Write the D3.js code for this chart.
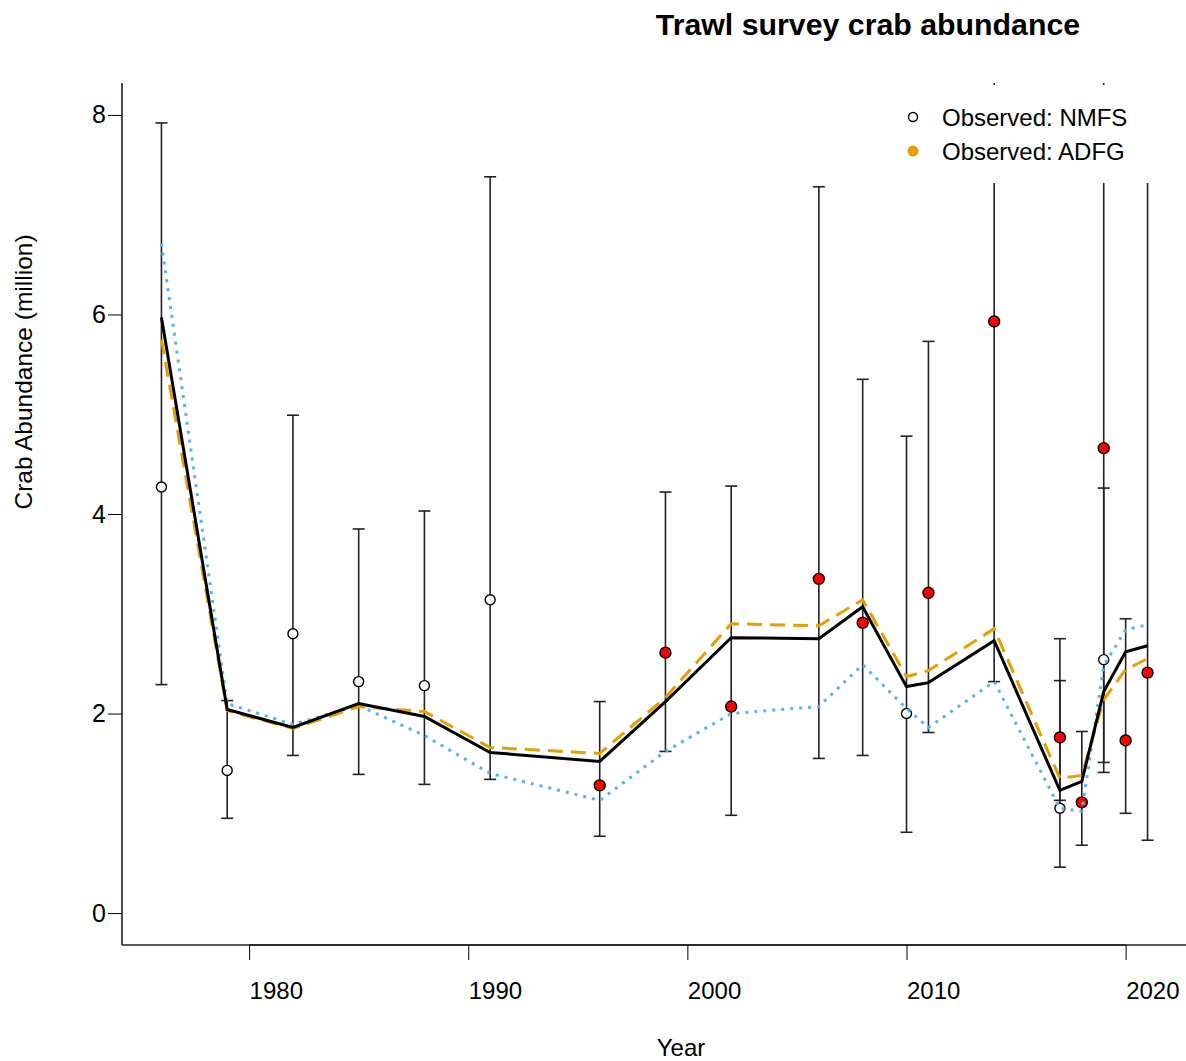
<!DOCTYPE html>
<html>
<head>
<meta charset="utf-8">
<script src="https://cdn.jsdelivr.net/npm/d3@7"></script>
<style>
  body { margin: 0; background: #fff; }
  text { font-family: "Liberation Sans", Arial, sans-serif; }
</style>
</head>
<body>
<div id="chart"></div>
<script>
// model fit years and estimates
const years = [1976, 1979, 1982, 1985, 1988, 1991, 1996, 1999, 2002, 2006, 2008, 2010, 2011, 2014, 2017, 2018, 2019, 2020, 2021];
const fitBlack  = [5.97, 2.04, 1.86, 2.10, 1.97, 1.61, 1.52, 2.12, 2.76, 2.75, 3.07, 2.27, 2.31, 2.73, 1.23, 1.32, 2.22, 2.62, 2.68];
const fitOrange = [5.75, 2.03, 1.85, 2.07, 2.02, 1.66, 1.60, 2.16, 2.90, 2.88, 3.14, 2.37, 2.43, 2.85, 1.35, 1.38, 2.14, 2.44, 2.55];
const fitBlue   = [6.71, 2.10, 1.89, 2.08, 1.78, 1.40, 1.13, 1.62, 2.00, 2.07, 2.49, 2.05, 1.86, 2.32, 1.05, 1.02, 2.48, 2.84, 2.89];

// observed: NMFS
const nmfsYears = [1976, 1979, 1982, 1985, 1988, 1991, 2010, 2017, 2019];
const nmfsObs   = [4.27, 1.43, 2.80, 2.32, 2.28, 3.14, 2.00, 1.05, 2.54];
const nmfsLo    = [2.29, 0.95, 1.58, 1.39, 1.29, 1.34, 0.81, 0.46, 1.51];
const nmfsHi    = [7.92, 2.13, 4.99, 3.85, 4.03, 7.38, 4.78, 2.33, 4.26];

// observed: ADFG
const adfgYears = [1996, 1999, 2002, 2006, 2008, 2011, 2014, 2017, 2018, 2019, 2020, 2021];
const adfgObs   = [1.28, 2.61, 2.07, 3.35, 2.91, 3.21, 5.93, 1.76, 1.11, 4.66, 1.73, 2.41];
const adfgLo    = [0.77, 1.62, 0.98, 1.55, 1.58, 1.81, 2.32, 1.13, 0.68, 1.41, 1.00, 0.73];
const adfgHi    = [2.12, 4.22, 4.28, 7.28, 5.35, 5.73, 15.2, 2.75, 1.82, 15.3, 2.95, 7.90];

const yTicks = [0, 2, 4, 6, 8];
const xTicks = [1980, 1990, 2000, 2010, 2020];

const width = 1186, height = 1061;
const margin = {top: 83, right: 0, bottom: 116, left: 122};

const svg = d3.select("#chart").append("svg")
    .attr("width", width)
    .attr("height", height);

const x = d3.scaleLinear().domain([1974.2, 2022.8]).range([margin.left, 1187]);
const y = d3.scaleLinear().domain([-0.32, 8.32]).range([height - margin.bottom, margin.top]);

svg.append("clipPath").attr("id", "plotclip")
    .append("rect")
    .attr("x", margin.left).attr("y", margin.top)
    .attr("width", 1187 - margin.left).attr("height", height - margin.bottom - margin.top);

const plot = svg.append("g").attr("clip-path", "url(#plotclip)");

// error bars
function errorBars(yrs, lo, hi) {
    const g = plot.append("g").attr("stroke", "#222").attr("stroke-width", 1.6);
    yrs.forEach((yr, i) => {
        g.append("line")
            .attr("x1", x(yr)).attr("x2", x(yr))
            .attr("y1", y(lo[i])).attr("y2", y(hi[i]));
        [lo[i], hi[i]].forEach(v => {
            g.append("line")
                .attr("x1", x(yr) - 6).attr("x2", x(yr) + 6)
                .attr("y1", y(v)).attr("y2", y(v));
        });
    });
}
errorBars(nmfsYears, nmfsLo, nmfsHi);
errorBars(adfgYears, adfgLo, adfgHi);

// points
plot.append("g").selectAll("circle")
    .data(nmfsYears).enter()
    .append("circle")
    .attr("cx", d => x(d))
    .attr("cy", (d, i) => y(nmfsObs[i]))
    .attr("r", 5)
    .attr("fill", "white")
    .attr("stroke", "black")
    .attr("stroke-width", 1.4);

plot.append("g").selectAll("circle")
    .data(adfgYears).enter()
    .append("circle")
    .attr("cx", d => x(d))
    .attr("cy", (d, i) => y(adfgObs[i]))
    .attr("r", 5.5)
    .attr("fill", "#ff0000")
    .attr("stroke", "black")
    .attr("stroke-width", 1.4);

// fitted lines
const line = d3.line().x((d, i) => x(years[i])).y(d => y(d));
plot.append("path").datum(fitBlue)
    .attr("d", line).attr("fill", "none")
    .attr("stroke", "#56B4E9").attr("stroke-width", 3)
    .attr("stroke-dasharray", "3,6");
plot.append("path").datum(fitOrange)
    .attr("d", line).attr("fill", "none")
    .attr("stroke", "#E69F00").attr("stroke-width", 3)
    .attr("stroke-dasharray", "15,8");
plot.append("path").datum(fitBlack)
    .attr("d", line).attr("fill", "none")
    .attr("stroke", "black").attr("stroke-width", 3);

// legend (white background covers bars)
const legend = svg.append("g");
legend.append("rect")
    .attr("x", 895).attr("y", 85)
    .attr("width", 291).attr("height", 98)
    .attr("fill", "white");
legend.append("circle")
    .attr("cx", 913).attr("cy", 117).attr("r", 4.5)
    .attr("fill", "white").attr("stroke", "black").attr("stroke-width", 1.4);
legend.append("circle")
    .attr("cx", 913).attr("cy", 151).attr("r", 5.5)
    .attr("fill", "#E69F00");
legend.append("text")
    .attr("x", 942).attr("y", 118).attr("dy", "0.35em")
    .attr("font-size", 24).text("Observed: NMFS");
legend.append("text")
    .attr("x", 942).attr("y", 152).attr("dy", "0.35em")
    .attr("font-size", 24).text("Observed: ADFG");

// frame lines (left + bottom)
svg.append("line")
    .attr("x1", margin.left).attr("x2", margin.left)
    .attr("y1", margin.top).attr("y2", height - margin.bottom)
    .attr("stroke", "#222").attr("stroke-width", 1.6);
svg.append("line")
    .attr("x1", margin.left).attr("x2", width)
    .attr("y1", height - margin.bottom).attr("y2", height - margin.bottom)
    .attr("stroke", "#222").attr("stroke-width", 1.6);

// axes
const yAxis = svg.append("g")
    .attr("transform", "translate(" + margin.left + ",0)")
    .call(d3.axisLeft(y).tickValues(yTicks).tickSize(14).tickPadding(2).tickSizeOuter(0));
yAxis.select(".domain").remove();
yAxis.selectAll("text").attr("font-size", 25).attr("font-family", "Liberation Sans, Arial, sans-serif").attr("fill", "black");

const xAxis = svg.append("g")
    .attr("transform", "translate(0," + (height - margin.bottom) + ")")
    .call(d3.axisBottom(x).tickValues(xTicks).tickFormat(d3.format("d")).tickSize(15).tickPadding(22).tickSizeOuter(0));
xAxis.select(".domain").attr("d", "M" + x(1980) + ",0H" + x(2020));
xAxis.selectAll("text")
    .attr("text-anchor", "start")
    .attr("font-size", 24).attr("font-family", "Liberation Sans, Arial, sans-serif").attr("fill", "black");

// titles
svg.append("text")
    .attr("x", 868).attr("y", 35)
    .attr("text-anchor", "middle")
    .attr("font-size", 30.3).attr("font-weight", "bold")
    .text("Trawl survey crab abundance");

svg.append("text")
    .attr("x", 681).attr("y", 1056)
    .attr("text-anchor", "middle")
    .attr("font-size", 24)
    .text("Year");

svg.append("text")
    .attr("transform", "translate(32,372) rotate(-90)")
    .attr("text-anchor", "middle")
    .attr("font-size", 24.5)
    .text("Crab Abundance (million)");
</script>
</body>
</html>
